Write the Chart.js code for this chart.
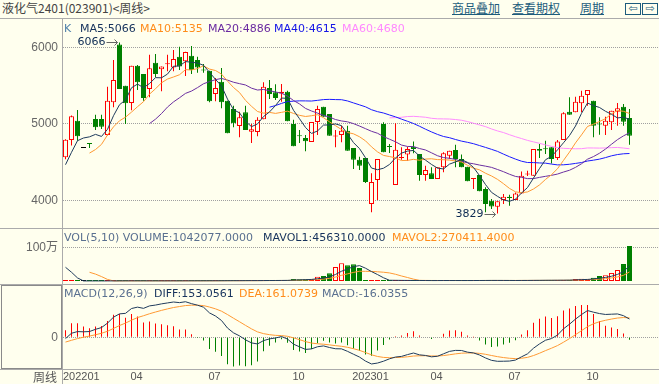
<!DOCTYPE html>
<html>
<head>
<meta charset="utf-8">
<script src="https://cdn.jsdelivr.net/npm/chart.js@4/dist/chart.umd.min.js"></script>
<style>
body { margin: 0; background: #ffffee; }
#wrap { position: relative; width: 659px; height: 384px; overflow: hidden; background: #ffffee; }
canvas { position: absolute; left: 0; }
.leg { position: absolute; font: 11px "DejaVu Sans", sans-serif; line-height: 14px; white-space: nowrap; }
.hl { position: absolute; left: 0; width: 659px; height: 1px; background: #ababab; }
.lnk { position: absolute; top: 0; font: 12px "Noto Sans CJK SC", sans-serif; line-height: 16px; color: #1d5c7c; text-decoration: underline; white-space: nowrap; }
.box { position: absolute; top: 3px; width: 14px; height: 10px; border: 1px solid #1d5c7c; font: 11px "DejaVu Sans", sans-serif; line-height: 10px; text-align: center; color: #1d5c7c; }
</style>
</head>
<body>
<div id="wrap">
  <div style="position:absolute;left:2px;top:0;font:12px 'Noto Sans CJK SC',sans-serif;line-height:16px;color:#444;white-space:nowrap">液化气2401(023901)&lt;周线&gt;</div>
  <div class="lnk" style="left:452px">商品叠加</div>
  <div class="lnk" style="left:512px">查看期权</div>
  <div class="lnk" style="left:580px">周期</div>
  <div class="box" style="left:625px">&#8678;</div>
  <div class="box" style="left:642px">&#8680;</div>

  <canvas id="main" width="659" height="209" style="top:19px"></canvas>
  <canvas id="vol" width="659" height="55" style="top:229px"></canvas>
  <canvas id="macd" width="659" height="99" style="top:285px"></canvas>

  <div class="hl" style="top:18px"></div>
  <div class="hl" style="top:228px"></div>
  <div class="hl" style="top:284px"></div>
  <div class="hl" style="top:369px"></div>
  <div style="position:absolute;left:62px;top:18px;width:1px;height:366px;background:#ababab"></div>
  <div style="position:absolute;left:1px;top:285px;width:59px;height:82px;border:1px solid #8a8a8a"></div>

  <div class="leg" style="left:64px;top:22px;color:#4f80aa">K</div>
  <div class="leg" style="left:80px;top:22px;color:#16325c">MA5:5066</div>
  <div class="leg" style="left:140px;top:22px;color:#ff8c1a">MA10:5135</div>
  <div class="leg" style="left:208px;top:22px;color:#6a2aa0">MA20:4886</div>
  <div class="leg" style="left:274px;top:22px;color:#1414e6">MA40:4615</div>
  <div class="leg" style="left:342px;top:22px;color:#ff88ff">MA60:4680</div>

  <div class="leg" style="left:64px;top:231px;color:#5a7090">VOL(5,10) VOLUME:1042077.0000</div>
  <div class="leg" style="left:263px;top:231px;color:#16325c">MAVOL1:456310.0000</div>
  <div class="leg" style="left:392px;top:231px;color:#ff8c1a">MAVOL2:270411.4000</div>

  <div class="leg" style="left:64px;top:287px;color:#5a7090">MACD(12,26,9)</div>
  <div class="leg" style="left:154px;top:287px;color:#16325c">DIFF:153.0561</div>
  <div class="leg" style="left:239px;top:287px;color:#ff8c1a">DEA:161.0739</div>
  <div class="leg" style="left:322px;top:287px;color:#5a7090">MACD:-16.0355</div>

  <div style="position:absolute;left:20px;width:37px;top:369px;font:12px 'Noto Sans CJK SC',sans-serif;line-height:16px;color:#555;text-align:right">周线</div>
</div>

<script>
// weekly bars, 2022-01 .. 2023-11
const opens = [
  4564, 4790, 5044, 4686, 4750, 5065, 5065, 4856, 5283, 6040,
  5500, 5275, 5760, 5654, 5457, 5800, 5715, 5780, 5740, 5880,
  5820, 5893, 5837, 5710, 5697, 5392, 5553, 5305, 5196, 4974,
  5153, 4900, 4895, 5061, 5470, 5414, 5400, 5423, 5000, 4845,
  4817, 4765, 5026, 5227, 5130, 4835, 4856, 4913, 4686, 4533,
  4555, 3954, 4268, 5000, 4706, 4202, 4555, 4600, 4703, 4608,
  4333, 4355, 4280, 4433, 4586, 4660, 4542, 4442, 4280, 4333,
  4150, 3997, 3919, 4006, 4050, 4006, 4093, 4340, 4324, 4673,
  4680, 4695, 4555, 4790, 5160, 5153, 5270, 5380, 5305, 5000,
  4978, 5022, 5161, 5227, 5078
];
const highs = [
  4800, 5110, 5183, 4686, 4752, 5122, 5120, 5488, 5837, 6066,
  5500, 5760, 5770, 5654, 5906, 5915, 5750, 5906, 5968, 6010,
  5945, 6020, 5880, 5785, 5697, 5600, 5732, 5305, 5240, 5161,
  5240, 5000, 5087, 5545, 5575, 5518, 5523, 5436, 5057, 4922,
  4856, 5026, 5240, 5227, 5130, 4922, 4978, 4978, 4686, 4573,
  4555, 4355, 4542, 5022, 4740, 5009, 4695, 4703, 4770, 4608,
  4455, 4433, 4433, 4630, 4651, 4730, 4600, 4442, 4290, 4333,
  4172, 4020, 3989, 4085, 4076, 4106, 4380, 4390, 4673, 4740,
  4782, 4695, 4790, 5153, 5350, 5357, 5436, 5445, 5305, 5087,
  5096, 5174, 5275, 5261, 5196
];
const lows = [
  4540, 4720, 4780, 4686, 4686, 4920, 4935, 4850, 5218, 5458,
  5000, 5180, 5445, 5305, 5350, 5610, 5427, 5690, 5690, 5706,
  5627, 5654, 5670, 5670, 5283, 5296, 5205, 4878, 4956, 4826,
  4922, 4750, 4840, 5061, 5327, 5314, 5292, 5035, 4708, 4750,
  4643, 4765, 4856, 5096, 4847, 4695, 4760, 4651, 4411, 4400,
  4228, 3845, 4006, 4630, 4620, 4202, 4533, 4520, 4617, 4259,
  4259, 4280, 4280, 4368, 4542, 4433, 4433, 4250, 4150, 4120,
  3845, 3888, 3829, 3954, 3932, 4006, 4093, 4320, 4324, 4555,
  4608, 4485, 4530, 4790, 5122, 5153, 5153, 5240, 4826, 4860,
  4856, 4922, 4978, 4978, 4730
];
const closes = [
  4795, 5100, 4840, 4686, 4740, 4956, 4965, 5305, 5575, 5458,
  5270, 5760, 5545, 5340, 5730, 5654, 5750, 5790, 5850, 5750,
  5940, 5706, 5740, 5700, 5296, 5470, 5283, 4878, 5009, 5087,
  4922, 4930, 5057, 5488, 5392, 5340, 5420, 5035, 4708, 4840,
  4773, 5026, 5196, 5096, 4847, 4840, 4913, 4651, 4533, 4455,
  4241, 4241, 4542, 4630, 4700, 4664, 4562, 4673, 4673, 4333,
  4398, 4280, 4433, 4616, 4651, 4542, 4433, 4250, 4286, 4120,
  3954, 3923, 3989, 4050, 4032, 4093, 4324, 4346, 4673, 4651,
  4670, 4542, 4770, 5140, 5122, 5292, 5370, 5445, 4978, 4995,
  5044, 5174, 5205, 5030, 4847
];
const volumes = [
  3000, 2000, 4000, 1000, 2000, 3000, 2000, 5000, 6000, 8000,
  5000, 6000, 4000, 5000, 6000, 5000, 4000, 5000, 6000, 7000,
  6000, 8000, 7000, 6000, 9000, 8000, 10000, 12000, 11000, 10000,
  12000, 14000, 13000, 18000, 16000, 15000, 20000, 22000, 60000, 50000,
  50000, 50000, 129000, 149000, 228000, 417000, 526000, 466000, 496000, 387000,
  30000, 25000, 20000, 18000, 15000, 20000, 16000, 14000, 12000, 15000,
  13000, 12000, 14000, 16000, 15000, 14000, 12000, 15000, 16000, 18000,
  20000, 15000, 16000, 14000, 15000, 16000, 20000, 18000, 22000, 20000,
  25000, 22000, 24000, 26000, 30000, 60000, 65000, 52000, 95000, 150000,
  170000, 240000, 325000, 505000, 1042077
];
// weeks before the visible window, only feeding the averages
const priorCloses = [4494, 4290, 4080, 4511, 4664];
const priorVolumes = [550000, 745000, 845000, 450000, 0];
// EMA26, DIFF and DEA at the first visible week
const macdStart = [4560, -11, -40];

const tickWeeks = [0, 12, 25, 39, 51, 62, 75, 88];
const tickLabels = ['202201', '04', '07', '10', '202301', '04', '07', '10'];

const BG = '#ffffee';
const RED = '#ff0000';
const GREEN = '#008000';

function candleColor(i) {
  if (closes[i] > opens[i]) return RED;
  if (closes[i] < opens[i]) return GREEN;
  return '#000000';
}

function movingAvg(series, n, skip) {
  const out = [];
  for (let i = skip; i < series.length; i++) {
    if (i < n - 1) { out.push(null); continue; }
    let s = 0;
    for (let j = i - n + 1; j <= i; j++) s += series[j];
    out.push(s / n);
  }
  return out;
}

const allCloses = priorCloses.concat(closes);
const allVolumes = priorVolumes.concat(volumes);
const skip = priorCloses.length;

const ma5 = movingAvg(allCloses, 5, skip);
const ma10 = movingAvg(allCloses, 10, skip);
const ma20 = movingAvg(allCloses, 20, skip);
const ma40 = movingAvg(allCloses, 40, skip);
const ma60 = movingAvg(allCloses, 60, skip);
const mavol1 = movingAvg(allVolumes, 5, skip);
const mavol2 = movingAvg(allVolumes, 10, skip);

// MACD(12,26,9)
const diff = [], dea = [], macdBar = [];
let e26 = macdStart[0];
let e12 = macdStart[0] + macdStart[1];
let d = macdStart[2];
closes.forEach(function(c, i) {
  if (i > 0) {
    e12 += (c - e12) * 2 / 13;
    e26 += (c - e26) * 2 / 27;
    d += ((e12 - e26) - d) * 2 / 10;
  }
  diff.push(e12 - e26);
  dea.push(d);
  macdBar.push(2 * (e12 - e26 - d));
});

const pts = arr => arr.map((v, i) => ({ x: i, y: v }));

function line(data, color, order) {
  return {
    type: 'line', data: pts(data), borderColor: color, borderWidth: 1,
    pointRadius: 0, tension: 0, fill: false, order: order || 0
  };
}

const xScale = { type: 'linear', min: -0.4167, max: 98.9167, offset: false, display: false };

function yScale(min, max, ticks, label) {
  return {
    position: 'left', min: min, max: max,
    afterFit: function(s) {
      s.width = 63;
      s.paddingTop = 0;
      s.paddingBottom = 0;
    },
    afterBuildTicks: function(s) { s.ticks = ticks.map(v => ({ value: v })); },
    ticks: { padding: 5, color: '#666', font: { family: '"Liberation Sans", "Noto Sans CJK SC"', size: 12 }, callback: label },
    grid: { color: '#a0a0a0', lineWidth: 1, drawTicks: false },
    border: { display: false, dash: [1, 1] }
  };
}

const baseOptions = {
  responsive: false, animation: false, devicePixelRatio: 1, events: [],
  layout: { autoPadding: false, padding: 0 },
  plugins: { legend: { display: false }, tooltip: { enabled: false } }
};

// high / low markers
const extremes = {
  id: 'extremes',
  afterDatasetsDraw(chart) {
    const ctx = chart.ctx;
    const x = chart.scales.x, y = chart.scales.y;
    const hi = highs.indexOf(Math.max.apply(null, highs));
    const lo = lows.indexOf(Math.min.apply(null, lows));
    [[hi, highs[hi]], [lo, lows[lo]]].forEach(function(m) {
      const px = x.getPixelForValue(m[0]);
      const py = Math.round(y.getPixelForValue(m[1])) + 0.5;
      ctx.save();
      ctx.font = '11px "DejaVu Sans"';
      ctx.fillStyle = '#0c2a52';
      ctx.textAlign = 'right';
      ctx.textBaseline = 'middle';
      ctx.fillText(String(m[1]), px - 14, py);
      ctx.strokeStyle = '#666';
      ctx.lineWidth = 1;
      ctx.beginPath();
      ctx.moveTo(px - 13, py);
      ctx.lineTo(px - 2, py);
      ctx.moveTo(px - 5, py - 3);
      ctx.lineTo(px - 2, py);
      ctx.lineTo(px - 5, py + 3);
      ctx.stroke();
      ctx.restore();
    });
  }
};

new Chart(document.getElementById('main'), {
  type: 'bar',
  data: {
    datasets: [
      line(ma5, '#1f3b5c'),
      line(ma10, '#ff9933'),
      line(ma20, '#6b2fa0'),
      line(ma40, '#1a1aff'),
      line(ma60, '#ff8cff'),
      {
        type: 'bar', data: opens.map((o, i) => ({ x: i, y: [o, closes[i]] })),
        barThickness: 5, grouped: false, minBarLength: 1, inflateAmount: 0,
        borderWidth: 1, borderSkipped: false,
        borderColor: ctx => candleColor(ctx.dataIndex),
        backgroundColor: ctx => closes[ctx.dataIndex] > opens[ctx.dataIndex] ? BG : candleColor(ctx.dataIndex),
        order: 1
      },
      {
        type: 'bar', data: lows.map((l, i) => ({ x: i, y: [l, highs[i]] })),
        barThickness: 1, grouped: false, inflateAmount: 0, borderWidth: 0,
        backgroundColor: ctx => candleColor(ctx.dataIndex),
        order: 2
      }
    ]
  },
  options: Object.assign({}, baseOptions, {
    scales: { x: xScale, y: yScale(3640.5, 6372.5, [4000, 5000, 6000], v => String(v)) }
  }),
  plugins: [extremes]
});

new Chart(document.getElementById('vol'), {
  type: 'bar',
  data: {
    datasets: [
      line(mavol1, '#1f3b5c'),
      line(mavol2, '#ff9933'),
      {
        type: 'bar', data: pts(volumes),
        barThickness: 5, grouped: false, minBarLength: 1, inflateAmount: 0,
        borderWidth: 1, borderSkipped: false,
        borderColor: ctx => candleColor(ctx.dataIndex),
        backgroundColor: ctx => closes[ctx.dataIndex] > opens[ctx.dataIndex] ? BG : candleColor(ctx.dataIndex),
        order: 1
      }
    ]
  },
  options: Object.assign({}, baseOptions, {
    scales: { x: xScale, y: yScale(-89300, 1547600, [1000000], v => v === 1000000 ? '100万' : '') }
  })
});

// date labels under the MACD panel
const dateAxis = {
  id: 'dateAxis',
  afterDraw(chart) {
    const ctx = chart.ctx, area = chart.chartArea, x = chart.scales.x;
    ctx.save();
    ctx.font = '11px "Liberation Sans"';
    ctx.fillStyle = '#555';
    ctx.textBaseline = 'middle';
    tickWeeks.forEach(function(w, k) {
      const label = tickLabels[k];
      const tw = ctx.measureText(label).width;
      let px = x.getPixelForValue(w) - tw / 2 - 1;
      if (px < area.left) px = area.left;
      ctx.fillText(label, px, area.bottom + 8);
    });
    ctx.restore();
  }
};

new Chart(document.getElementById('macd'), {
  type: 'bar',
  data: {
    datasets: [
      line(diff, '#1f3b5c'),
      line(dea, '#ff9933'),
      {
        type: 'bar', data: pts(macdBar),
        barThickness: 1, grouped: false, inflateAmount: 0, borderWidth: 0,
        backgroundColor: ctx => macdBar[ctx.dataIndex] >= 0 ? RED : GREEN,
        order: 1
      }
    ]
  },
  options: Object.assign({}, baseOptions, {
    layout: { autoPadding: false, padding: { top: 0, left: 0, right: 0, bottom: 15 } },
    scales: { x: xScale, y: yScale(-265, 437, [0], v => String(v)) }
  }),
  plugins: [dateAxis]
});
</script>
</body>
</html>
